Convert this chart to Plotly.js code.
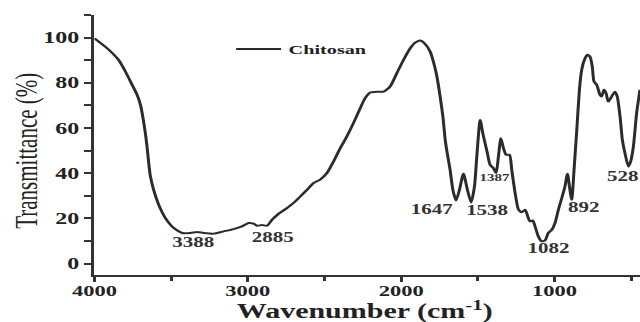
<!DOCTYPE html>
<html>
<head>
<meta charset="utf-8">
<script src="https://cdn.plot.ly/plotly-3.0.1.min.js"></script>
<style>
  html, body { margin: 0; padding: 0; background: #fff; overflow: hidden; }
  #wrap { width: 427px; height: 322px; transform: scaleX(1.4988); transform-origin: 0 0; }
  #chart { width: 427px; height: 322px; }
</style>
</head>
<body>
<div id="wrap"><div id="chart"></div></div>
<script>
// Wavenumber (cm-1)
const wavenumber = [
  4000, 3917, 3842, 3798, 3754, 3722, 3700, 3683, 3668, 3657, 3646, 3635, 3614, 3581, 3537, 3483,
  3429, 3375, 3331, 3288, 3223, 3158, 3093, 3038, 2995, 2962, 2940, 2907, 2875, 2842, 2799, 2745,
  2691, 2658, 2614, 2571, 2528, 2484, 2441, 2397, 2354, 2311, 2267, 2235, 2202, 2158, 2115, 2072,
  2028, 1985, 1941, 1909, 1876, 1844, 1811, 1790, 1767, 1746, 1728, 1713, 1698, 1681, 1663, 1642,
  1620, 1594, 1568, 1544, 1522, 1507, 1485, 1468, 1453, 1438, 1420, 1399, 1381, 1366, 1350, 1333,
  1316, 1294, 1279, 1257, 1235, 1214, 1192, 1171, 1160, 1142, 1127, 1106, 1084, 1062, 1041, 1018,
  997, 975, 953, 932, 916, 903, 888, 873, 855, 838, 823, 806, 786, 769, 754, 743,
  725, 704, 693, 678, 664, 650, 628, 606, 591, 573, 558, 541, 519, 504, 486, 465, 443
];
// Transmittance (%)
const transmittance = [
  99.7, 95.3, 90.1, 85.0, 79.1, 74.7, 70.3, 64.4, 57.8, 51.8, 44.5, 38.6, 32.7, 26.1, 20.2, 15.8,
  13.6, 13.6, 14.0, 13.6, 13.3, 14.3, 15.3, 16.5, 18.0, 17.7, 16.8, 17.1, 16.8, 19.4, 22.1, 24.6,
  27.5, 29.7, 32.7, 35.7, 37.2, 40.1, 45.2, 51.1, 56.3, 62.2, 68.8, 73.2, 75.7, 76.1, 76.1, 78.4,
  84.3, 90.1, 95.3, 97.8, 98.7, 97.2, 93.8, 89.4, 82.8, 73.9, 65.1, 54.8, 48.2, 41.5, 32.7, 28.0,
  32.7, 39.8, 32.7, 27.1, 34.2, 47.4, 63.6, 57.8, 53.3, 48.9, 43.7, 42.3, 40.1, 47.4, 55.5, 51.1,
  48.2, 48.2, 41.5, 31.2, 23.9, 22.7, 23.9, 20.2, 18.7, 19.1, 16.5, 12.1, 9.9, 10.3, 13.6, 15.0,
  18.0, 23.9, 29.0, 34.2, 39.8, 34.2, 28.3, 41.5, 59.2, 76.9, 85.7, 90.1, 92.4, 91.6, 87.2, 80.6,
  79.1, 74.7, 73.9, 76.9, 75.4, 71.7, 73.9, 76.1, 73.9, 65.1, 54.8, 48.9, 43.0, 45.2, 51.8, 66.6, 76.9
];
const seriesName = "Chitosan";
const peakLabels = ["3388", "2885", "1647", "1538", "1387", "1082", "892", "528"];
const xTickVals = [4000, 3000, 2000, 1000];
const yTickVals = [0, 20, 40, 60, 80, 100];
const xTitle = "Wavenumber (cm<sup>-1</sup>)";
const yTitle = "Transmittance (%)";

// label placement (layout only)
const labelPlace = [
  {x: 3355, y: 9.3, s: 14},
  {x: 2834, y: 11.5, s: 14},
  {x: 1798, y: 23.9, s: 14},
  {x: 1440, y: 23.4, s: 14},
  {x: 1394, y: 38.0, s: 10},
  {x: 1042, y: 6.6, s: 14},
  {x: 814, y: 24.7, s: 14},
  {x: 560, y: 38.4, s: 14}
];

const serif = "Liberation Serif, Times New Roman, serif";
const ink = "#222";
const axisCol = "#333";

const trace = {
  type: "scatter",
  mode: "lines",
  x: wavenumber,
  y: transmittance,
  name: seriesName,
  line: {color: "#2b2b2b", width: 2, shape: "spline", smoothing: 0.6},
  hoverinfo: "skip"
};

const annotations = peakLabels.map((t, i) => ({
  x: labelPlace[i].x, y: labelPlace[i].y, xref: "x", yref: "y",
  text: t, showarrow: false,
  font: {family: serif, size: labelPlace[i].s, color: "#333", weight: "bold"}
}));
// axis titles
annotations.push({
  xref: "paper", yref: "paper", x: 0.496, y: -0.19, xanchor: "center", yanchor: "bottom",
  text: xTitle, showarrow: false, borderpad: 0,
  font: {family: serif, size: 20, color: ink, weight: "bold"}
});
annotations.push({
  xref: "paper", yref: "paper", x: -0.124, y: 0.477, xanchor: "center", yanchor: "middle",
  text: yTitle, textangle: -90, showarrow: false,
  font: {family: serif, size: 21, color: ink}
});

const layout = {
  width: 427, height: 322,
  margin: {l: 63, r: 0, t: 15, b: 47, pad: 0},
  paper_bgcolor: "#fff", plot_bgcolor: "#fff",
  showlegend: true,
  legend: {
    x: 0.246, y: 0.928, xanchor: "left", yanchor: "top",
    bgcolor: "rgba(0,0,0,0)", borderwidth: 0,
    font: {family: serif, size: 13.5, color: ink, weight: "bold"}
  },
  xaxis: {
    range: [4000, 443], autorange: false,
    tickvals: xTickVals, tickformat: "d",
    showgrid: false, zeroline: false,
    showline: true, linecolor: axisCol, linewidth: 2,
    ticks: "outside", ticklen: 5, tickwidth: 2, tickcolor: axisCol,
    ticklabelstandoff: -4,
    minor: {dtick: 500, tick0: 0, ticks: "outside", ticklen: 4, tickwidth: 2, tickcolor: axisCol},
    tickfont: {family: serif, size: 15, color: ink, weight: "bold"}
  },
  yaxis: {
    range: [-5, 110], autorange: false,
    tickvals: yTickVals,
    showgrid: false, zeroline: false,
    showline: true, linecolor: axisCol, linewidth: 2,
    ticks: "outside", ticklen: 5, tickwidth: 2, tickcolor: axisCol,
    minor: {dtick: 10, tick0: 0, ticks: "outside", ticklen: 5, tickwidth: 2, tickcolor: axisCol},
    tickfont: {family: serif, size: 16, color: ink, weight: "bold"}
  },
  annotations: annotations
};

Plotly.newPlot("chart", [trace], layout, {displayModeBar: false, staticPlot: true});
</script>
</body>
</html>
